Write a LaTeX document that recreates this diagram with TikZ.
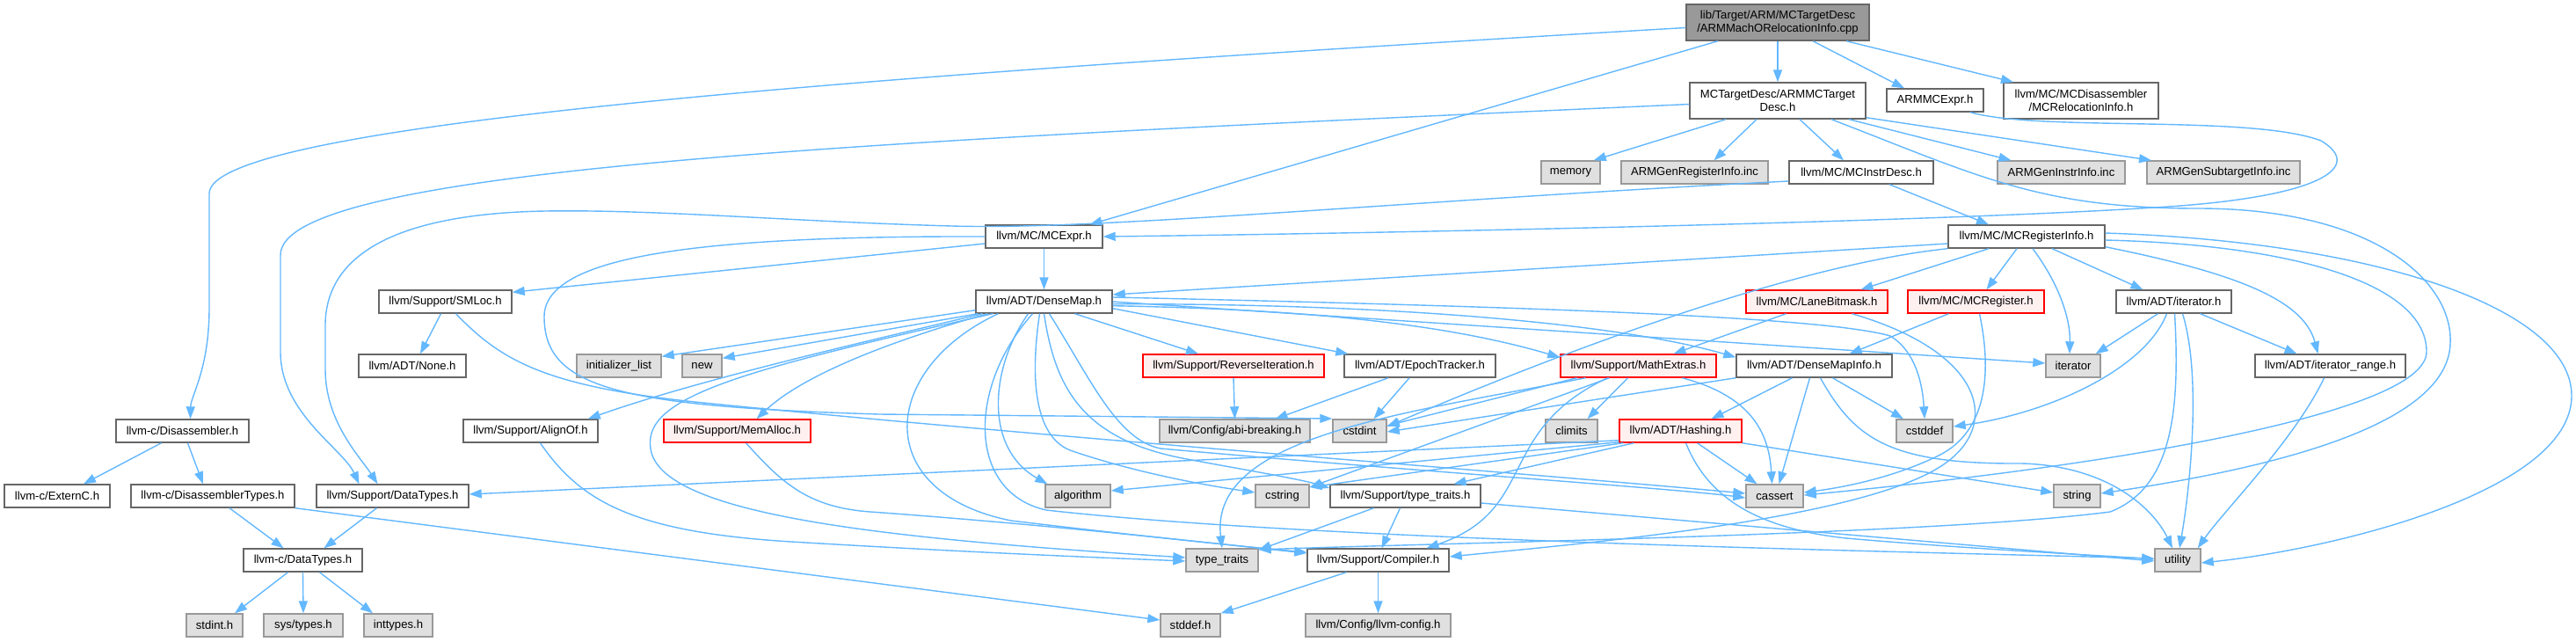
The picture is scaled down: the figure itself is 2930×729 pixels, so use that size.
\documentclass[tikz,border=0pt]{standalone}
\usepackage{fontspec}
\setmainfont{Liberation Sans}
\usetikzlibrary{arrows.meta}
\definecolor{edgeblue}{HTML}{63B8FF}
\definecolor{boxgray}{HTML}{666666}
\definecolor{sysfill}{HTML}{E0E0E0}
\definecolor{sysdraw}{HTML}{999999}
\definecolor{redfill}{HTML}{FFF0F0}
\definecolor{reddraw}{HTML}{FF0000}
\definecolor{rootfill}{HTML}{999999}
\begin{document}
\begin{tikzpicture}[x=1pt,y=-1pt,
  box/.style={draw=boxgray, fill=white, line width=1.4pt, inner sep=0pt, minimum height=26pt, align=center, font=\fontsize{13.1pt}{14.6pt}\selectfont},
  sysbox/.style={box, fill=sysfill, draw=sysdraw},
  trunc/.style={box, fill=redfill, draw=reddraw},
  rootbox/.style={box, fill=rootfill, draw=boxgray, minimum height=41pt},
  two/.style={minimum height=41pt},
  edge/.style={draw=edgeblue, line width=1.4pt, -{Triangle[length=14pt,width=10pt]}}]
\fill[white] (0,0) rectangle (2930,729);
\useasboundingbox (0,0) rectangle (2930,729);
% nodes
\node[rootbox, minimum width=208pt] (root) at (2022,25.5) {lib/Target/ARM/MCTargetDesc\\/ARMMachORelocationInfo.cpp};
\node[box, two, minimum width=200pt] (tdesc) at (2022,114.5) {MCTargetDesc/ARMMCTarget\\Desc.h};
\node[box, minimum width=110pt] (armexpr) at (2201,114) {ARMMCExpr.h};
\node[box, two, minimum width=176pt] (reloc) at (2367,114.5) {llvm/MC/MCDisassembler\\/MCRelocationInfo.h};
\node[sysbox, minimum width=67pt] (memory) at (1786.5,196) {memory};
\node[sysbox, minimum width=167pt] (genreg) at (1927.5,196) {ARMGenRegisterInfo.inc};
\node[box, minimum width=164pt] (instrdesc) at (2117,196) {llvm/MC/MCInstrDesc.h};
\node[sysbox, minimum width=145pt] (geninstr) at (2344.5,196) {ARMGenInstrInfo.inc};
\node[sysbox, minimum width=174pt] (gensub) at (2529,196) {ARMGenSubtargetInfo.inc};
\node[box, minimum width=133pt] (mcexpr) at (1187.5,269) {llvm/MC/MCExpr.h};
\node[box, minimum width=178pt] (reginfo) at (2305,269) {llvm/MC/MCRegisterInfo.h};
\node[box, minimum width=151pt] (smloc) at (506.5,343) {llvm/Support/SMLoc.h};
\node[box, minimum width=155pt] (densemap) at (1187.5,343) {llvm/ADT/DenseMap.h};
\node[trunc, minimum width=161pt] (lanebit) at (2066.5,343) {llvm/MC/LaneBitmask.h};
\node[trunc, minimum width=155pt] (mcreg) at (2247.5,343) {llvm/MC/MCRegister.h};
\node[box, minimum width=131pt] (iterh) at (2472.5,343) {llvm/ADT/iterator.h};
\node[box, minimum width=122pt] (none) at (469,416) {llvm/ADT/None.h};
\node[sysbox, minimum width=96pt] (initlist) at (704,416) {initializer\_list};
\node[sysbox, minimum width=45pt] (new) at (798.5,416) {new};
\node[trunc, minimum width=206pt] (reviter) at (1403,416) {llvm/Support/ReverseIteration.h};
\node[box, minimum width=172pt] (epoch) at (1615,416) {llvm/ADT/EpochTracker.h};
\node[trunc, minimum width=177pt] (mathext) at (1863.5,416) {llvm/Support/MathExtras.h};
\node[box, minimum width=177pt] (dmi) at (2063.5,416) {llvm/ADT/DenseMapInfo.h};
\node[sysbox, minimum width=62pt] (iterator) at (2358,416) {iterator};
\node[box, minimum width=171pt] (iterrange) at (2650.5,416) {llvm/ADT/iterator\_range.h};
\node[box, minimum width=151pt] (disasm) at (207.5,490) {llvm-c/Disassembler.h};
\node[box, minimum width=153pt] (alignof) at (603.5,490) {llvm/Support/AlignOf.h};
\node[trunc, minimum width=167pt] (memalloc) at (838.5,490) {llvm/Support/MemAlloc.h};
\node[sysbox, minimum width=171pt] (abibreak) at (1404.5,490) {llvm/Config/abi-breaking.h};
\node[sysbox, minimum width=61pt] (cstdint) at (1546.5,490) {cstdint};
\node[sysbox, minimum width=59pt] (climits) at (1787.5,490) {climits};
\node[trunc, minimum width=139pt] (hashing) at (1911.5,490) {llvm/ADT/Hashing.h};
\node[sysbox, minimum width=64pt] (cstddef) at (2189,490) {cstddef};
\node[box, minimum width=120pt] (externc) at (65,564) {llvm-c/ExternC.h};
\node[box, minimum width=186pt] (disasmtypes) at (242,564) {llvm-c/DisassemblerTypes.h};
\node[box, minimum width=173pt] (sdatatypes) at (446.5,564) {llvm/Support/DataTypes.h};
\node[sysbox, minimum width=74pt] (algorithm) at (1226,564) {algorithm};
\node[sysbox, minimum width=61pt] (cstring) at (1458.5,564) {cstring};
\node[box, minimum width=171pt] (typetraitsh) at (1598.5,564) {llvm/Support/type\_traits.h};
\node[sysbox, minimum width=65pt] (cassert) at (2018.5,564) {cassert};
\node[sysbox, minimum width=53pt] (string) at (2362.5,564) {string};
\node[box, minimum width=135pt] (cdatatypes) at (344.5,637) {llvm-c/DataTypes.h};
\node[sysbox, minimum width=82pt] (typetraits) at (1390,637) {type\_traits};
\node[box, minimum width=161pt] (compiler) at (1567.5,637) {llvm/Support/Compiler.h};
\node[sysbox, minimum width=52pt] (utility) at (2477,637) {utility};
\node[sysbox, minimum width=64pt] (stdint) at (244,711) {stdint.h};
\node[sysbox, minimum width=90pt] (systypes) at (345,711) {sys/types.h};
\node[sysbox, minimum width=78pt] (inttypes) at (453,711) {inttypes.h};
\node[sysbox, minimum width=68pt] (stddef) at (1354,711) {stddef.h};
\node[sysbox, minimum width=165pt] (llvmconfig) at (1567.5,711) {llvm/Config/llvm-config.h};
% root edges
\draw[edge] (root.south) -- (tdesc.north);
\draw[edge] ([xshift=40pt]root.south) -- ([xshift=-35pt]armexpr.north);
\draw[edge] ([xshift=78pt]root.south) -- ([xshift=-77pt]reloc.north);
\draw[edge] ([xshift=-68pt]root.south) -- ([xshift=52pt]mcexpr.north);
\draw[edge] ([yshift=-6pt]root.west) .. controls (1000,85) and (238,140) .. (238,220) -- (238,350) .. controls (238,420) and (217,450) .. ([xshift=9pt]disasm.north);
% tdesc edges
\draw[edge] ([xshift=-59pt]tdesc.south) -- ([xshift=-8pt]memory.north east);
\draw[edge] ([xshift=-24pt]tdesc.south) -- ([xshift=22pt]genreg.north);
\draw[edge] ([xshift=25pt]tdesc.south) -- ([xshift=-20pt]instrdesc.north);
\draw[edge] ([xshift=81pt]tdesc.south) -- ([xshift=-57pt]geninstr.north);
\draw[edge] ([yshift=2pt]tdesc.south east) -- ([xshift=-82pt]gensub.north);
\draw[edge] ([yshift=-4pt]tdesc.west) .. controls (1000,160) and (319,190) .. (319,290) -- (319,400) .. controls (319,470) and (390,510) .. ([xshift=-38pt]sdatatypes.north);
\draw[edge] ([xshift=61pt]tdesc.south) .. controls (2250,200) and (2320,237) .. (2500,237) .. controls (2700,237) and (2790,320) .. (2787,390) .. controls (2785,480) and (2600,530) .. ([yshift=3pt]string.east);
% armexpr
\draw[edge] ([xshift=40pt]armexpr.south) .. controls (2320,150) and (2560,130) .. (2640,160) .. controls (2690,190) and (2640,225) .. (2450,236) .. controls (2200,252) and (1600,265) .. (mcexpr.east);
% instrdesc
\draw[edge] ([xshift=32pt]instrdesc.south) -- ([xshift=-43pt]reginfo.north);
\draw[edge] ([yshift=-10pt]instrdesc.west) .. controls (1600,228) and (1250,262) .. (1083,257) .. controls (900,252) and (750,238) .. (620,240) .. controls (450,243) and (370,290) .. (370,370) -- (370,420) .. controls (370,480) and (410,520) .. ([xshift=-17pt]sdatatypes.north);
% mcexpr
\draw[edge] (mcexpr.south) -- (densemap.north);
\draw[edge] ([yshift=-8pt]mcexpr.west) -- ([yshift=-3pt]smloc.north east);
\draw[edge] (mcexpr.west) .. controls (800,268) and (619,290) .. (619,360) .. controls (619,440) and (700,462) .. (1000,471) -- ([yshift=14pt]cstdint.west);
% smloc
\draw[edge] ([xshift=-5pt]smloc.south) -- ([xshift=9pt]none.north);
\draw[edge] ([xshift=12pt]smloc.south) .. controls (570,410) and (620,440) .. (800,458) .. controls (1200,498) and (1700,535) .. ([yshift=3pt]cassert.west);
% densemap
\draw[edge] ([yshift=4pt]densemap.south west) -- ([yshift=-3pt]initlist.north east);
\draw[edge] ([xshift=3pt]densemap.south west) -- ([yshift=-5pt]new.north east);
\draw[edge] ([xshift=8pt]densemap.south west) .. controls (1000,385) and (800,430) .. ([xshift=-12pt]alignof.north east);
\draw[edge] ([xshift=14pt]densemap.south west) .. controls (1040,380) and (920,420) .. ([xshift=22pt]memalloc.north);
\draw[edge] ([xshift=20pt]densemap.south west) .. controls (850,420) and (730,450) .. (740,510) .. controls (750,585) and (1000,612) .. ([yshift=3pt]typetraits.west);
\draw[edge] ([xshift=26pt]densemap.south west) .. controls (1000,420) and (990,560) .. (1150,592) .. controls (1300,610) and (1420,622) .. ([yshift=9pt]compiler.west);
\draw[edge] ([xshift=-18pt]densemap.south) .. controls (1125,420) and (1120,510) .. ([xshift=3pt]algorithm.north west);
\draw[edge] ([xshift=-13pt]densemap.south) .. controls (1100,440) and (1100,560) .. (1190,580) .. controls (1500,615) and (2200,628) .. ([yshift=2pt]utility.west);
\draw[edge] ([xshift=-5pt]densemap.south) .. controls (1170,440) and (1180,500) .. (1220,513) .. controls (1300,540) and (1380,553) .. ([yshift=4pt]cstring.west);
\draw[edge] (densemap.south) .. controls (1200,440) and (1230,500) .. (1350,522) .. controls (1420,535) and (1480,545) .. ([yshift=9pt]typetraitsh.west);
\draw[edge] ([xshift=6pt]densemap.south) .. controls (1240,430) and (1270,500) .. (1320,510) .. controls (1600,535) and (1900,555) .. ([yshift=-2pt]cassert.west);
\draw[edge] ([xshift=35pt]densemap.south) -- ([xshift=-40pt]reviter.north);
\draw[edge] ([yshift=6pt]densemap.south east) -- ([xshift=5pt]epoch.north west);
\draw[edge] ([yshift=9pt]densemap.south east) .. controls (1500,352) and (1650,370) .. ([yshift=-4pt]mathext.north west);
\draw[edge] ([yshift=11pt]densemap.south east) .. controls (1600,345) and (1850,370) .. ([yshift=-4pt]dmi.north west);
\draw[edge] (densemap.east) -- ([yshift=3pt]iterator.west);
\draw[edge] ([yshift=5pt]densemap.east) .. controls (1800,350) and (2080,362) .. (2150,382) .. controls (2180,400) and (2187,440) .. (cstddef.north);
% reginfo
\draw[edge] ([yshift=-8pt]reginfo.west) -- ([yshift=8pt]densemap.east);
\draw[edge] (reginfo.south west) .. controls (2050,300) and (1800,390) .. ([yshift=5pt]cstdint.east);
\draw[edge] ([xshift=-43pt]reginfo.south) -- ([xshift=50pt]lanebit.north);
\draw[edge] ([xshift=-11pt]reginfo.south) -- ([xshift=12pt]mcreg.north);
\draw[edge] ([xshift=7pt]reginfo.south) .. controls (2340,320) and (2355,360) .. ([xshift=-4pt]iterator.north);
\draw[edge] ([xshift=29pt]reginfo.south) -- ([xshift=-35pt]iterh.north);
\draw[edge] ([yshift=2pt]reginfo.south east) .. controls (2540,310) and (2620,340) .. ([xshift=-14pt]iterrange.north);
\draw[edge] ([yshift=-4pt]reginfo.east) .. controls (2600,278) and (2760,320) .. (2760,400) .. controls (2760,470) and (2400,530) .. ([yshift=1pt]cassert.east);
\draw[edge] ([yshift=4pt]reginfo.east) .. controls (2700,275) and (2925,350) .. (2925,450) .. controls (2925,560) and (2650,625) .. ([yshift=-3pt]utility.east);
% lanebit
\draw[edge] ([xshift=-35pt]lanebit.south) -- ([xshift=40pt]mathext.north);
\draw[edge] ([xshift=40pt]lanebit.south) .. controls (2255,400) and (2275,480) .. (2215,525) .. controls (2130,590) and (1800,618) .. ([yshift=4pt]compiler.east);
% mcreg
\draw[edge] ([xshift=-31pt]mcreg.south) -- ([xshift=40pt]dmi.north);
\draw[edge] ([xshift=4pt]mcreg.south) .. controls (2265,420) and (2262,490) .. (2205,518) .. controls (2150,545) and (2090,555) .. ([yshift=4pt]cassert.east);
% iterh
\draw[edge] ([xshift=-18pt]iterh.south) -- ([xshift=-6pt]iterator.north east);
\draw[edge] ([xshift=-8pt]iterh.south) .. controls (2440,420) and (2330,470) .. ([yshift=5pt]cstddef.east);
\draw[edge] ([xshift=1pt]iterh.south) .. controls (2480,470) and (2470,555) .. (2400,582) .. controls (2200,608) and (1650,617) .. ([yshift=12pt]typetraits.east);
\draw[edge] ([xshift=10pt]iterh.south) .. controls (2505,430) and (2490,560) .. ([xshift=2pt]utility.north);
\draw[edge] ([xshift=30pt]iterh.south) -- ([xshift=-38pt]iterrange.north);
% iterrange
\draw[edge] ([xshift=-7pt]iterrange.south) .. controls (2610,500) and (2530,580) .. ([xshift=-4pt]utility.north east);
% dmi
\draw[edge] ([xshift=-25pt]dmi.south) -- ([xshift=35pt]hashing.north);
\draw[edge] ([xshift=-5pt]dmi.south) -- ([xshift=5pt]cassert.north);
\draw[edge] ([xshift=21pt]dmi.south) -- ([xshift=-24pt]cstddef.north);
\draw[edge] ([xshift=7pt]dmi.south) .. controls (2110,500) and (2150,528) .. (2300,527) .. controls (2400,530) and (2450,580) .. ([xshift=-6pt]utility.north);
\draw[edge] (dmi.south west) -- ([yshift=-1pt]cstdint.east);
% mathext
\draw[edge] ([xshift=-70pt]mathext.south) -- ([yshift=6pt]cstdint.east);
\draw[edge] ([xshift=-12pt]mathext.south) -- ([xshift=18pt]climits.north);
\draw[edge] ([xshift=50pt]mathext.south) .. controls (1990,450) and (2012,490) .. ([xshift=-3pt]cassert.north);
\draw[edge] ([xshift=-33pt]mathext.south) -- ([yshift=10pt]cstring.east);
\draw[edge] ([xshift=-60pt]mathext.south) .. controls (1600,470) and (1375,495) .. (typetraits.north);
\draw[edge] ([xshift=-35pt]mathext.south) .. controls (1700,490) and (1750,580) .. ([xshift=55pt]compiler.north);
% hashing
\draw[edge] ([yshift=3pt]hashing.south west) -- ([yshift=2pt]sdatatypes.east);
\draw[edge] ([yshift=1pt]hashing.south west) -- ([yshift=6pt]algorithm.east);
\draw[edge] ([xshift=5pt]hashing.south west) -- ([yshift=10pt]cstring.east);
\draw[edge] ([xshift=-53pt]hashing.south) -- ([xshift=55pt]typetraitsh.north);
\draw[edge] ([xshift=19pt]hashing.south) -- ([xshift=-20pt]cassert.north);
\draw[edge] (hashing.south east) -- ([yshift=4pt]string.west);
\draw[edge] ([xshift=6pt]hashing.south) .. controls (1940,560) and (1990,600) .. (2100,612) .. controls (2250,625) and (2400,632) .. ([yshift=1pt]utility.west);
% epoch, reviter
\draw[edge] ([xshift=-36pt]epoch.south) -- ([xshift=46pt]abibreak.north);
\draw[edge] ([xshift=-12pt]epoch.south) -- ([xshift=16pt]cstdint.north);
\draw[edge] (reviter.south) -- (abibreak.north);
% typetraitsh
\draw[edge] ([xshift=-36pt]typetraitsh.south) -- ([yshift=-2pt]typetraits.north east);
\draw[edge] ([xshift=-6pt]typetraitsh.south) -- ([xshift=4pt]compiler.north);
\draw[edge] ([yshift=-8pt]typetraitsh.east) -- ([yshift=-1pt]utility.west);
% compiler
\draw[edge] ([xshift=-36pt]compiler.south) -- (stddef.north east);
\draw[edge] (compiler.south) -- (llvmconfig.north);
% alignof, memalloc
\draw[edge] ([xshift=11pt]alignof.south) .. controls (660,570) and (720,605) .. (900,616) .. controls (1100,628) and (1250,634) .. ([yshift=-1pt]typetraits.west);
\draw[edge] ([xshift=10pt]memalloc.south) .. controls (890,550) and (920,577) .. (990,582) .. controls (1200,597) and (1400,620) .. ([yshift=8pt]compiler.west);
% left part
\draw[edge] ([xshift=-24pt]disasm.south) -- ([xshift=30pt]externc.north);
\draw[edge] ([xshift=6pt]disasm.south) -- ([xshift=-11pt]disasmtypes.north);
\draw[edge] ([xshift=19pt]disasmtypes.south) -- ([xshift=-22pt]cdatatypes.north);
\draw[edge] (disasmtypes.south east) -- ([yshift=6pt]stddef.west);
\draw[edge] ([xshift=-18pt]sdatatypes.south) -- ([xshift=24pt]cdatatypes.north);
\draw[edge] ([xshift=-17pt]cdatatypes.south) -- ([xshift=23pt]stdint.north);
\draw[edge] (cdatatypes.south) -- (systypes.north);
\draw[edge] ([xshift=19pt]cdatatypes.south) -- ([xshift=-29pt]inttypes.north);
\end{tikzpicture}
\end{document}
